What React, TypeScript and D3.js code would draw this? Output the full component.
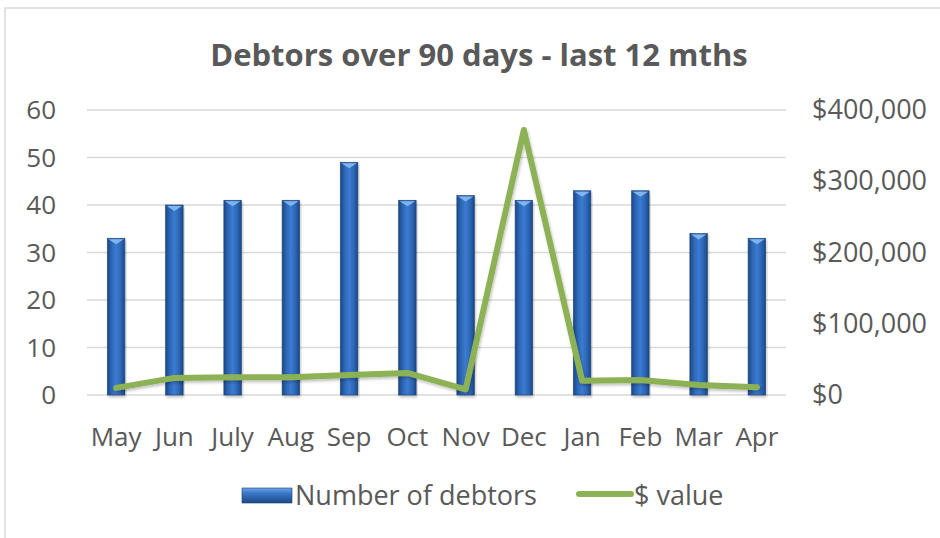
import React from "react";
import * as d3 from "d3";

const months = ["May", "Jun", "July", "Aug", "Sep", "Oct", "Nov", "Dec", "Jan", "Feb", "Mar", "Apr"];
const debtors = [33, 40, 41, 41, 49, 41, 42, 41, 43, 43, 34, 33];
const dollarValue = [10000, 24000, 25000, 25000, 28000, 31000, 8000, 372000, 20000, 21000, 14000, 11000];
const leftTicks = [0, 10, 20, 30, 40, 50, 60];
const rightTicks = [0, 100000, 200000, 300000, 400000];

const W = 940;
const H = 538;
const plotLeft = 87;
const plotRight = 786;
const plotTop = 110;
const plotBottom = 395;
const textColor = "#595959";
const font = "'Open Sans', 'Noto Sans', sans-serif";

export default function App() {
  const x = d3.scaleBand<string>().domain(months).range([plotLeft, plotRight]).paddingInner(0.7).paddingOuter(0.35);
  const yL = d3.scaleLinear().domain([0, 60]).range([plotBottom, plotTop]);
  const yR = d3.scaleLinear().domain([0, 400000]).range([plotBottom, plotTop]);
  const bw = x.bandwidth();
  const fmt = (v: number) => "$" + d3.format(",")(v);
  const line = d3
    .line<number>()
    .x((_, i) => (x(months[i]) as number) + bw / 2)
    .y((v) => yR(v));
  const pathD = line(dollarValue) || "";

  return (
    <svg width={W} height={H} style={{ position: "absolute", left: 0, top: 0 }} fontFamily={font}>
      <defs>
        <linearGradient id="barGrad" x1="0" x2="1" y1="0" y2="0">
          <stop offset="0" stopColor="#1c4886" />
          <stop offset="0.25" stopColor="#2d68b8" />
          <stop offset="0.5" stopColor="#3c7bd0" />
          <stop offset="0.75" stopColor="#2d68b8" />
          <stop offset="1" stopColor="#1c4886" />
        </linearGradient>
        <linearGradient id="legGrad" x1="0" x2="0" y1="0" y2="1">
          <stop offset="0" stopColor="#6aa3e6" />
          <stop offset="0.35" stopColor="#3a77c8" />
          <stop offset="1" stopColor="#1d4a85" />
        </linearGradient>
        <filter id="shadow" x="-10%" y="-10%" width="120%" height="130%">
          <feGaussianBlur in="SourceAlpha" stdDeviation="1.5" />
          <feOffset dx="1" dy="2" result="b" />
          <feComponentTransfer>
            <feFuncA type="linear" slope="0.25" />
          </feComponentTransfer>
          <feMerge>
            <feMergeNode />
            <feMergeNode in="SourceGraphic" />
          </feMerge>
        </filter>
      </defs>
      <rect x={0} y={0} width={W} height={H} fill="#ffffff" />
      <path d={`M5,${H} L5,8 L${W},8`} fill="none" stroke="#d9d9d9" strokeWidth={1.5} />

      <text x={479} y={66} textAnchor="middle" fontSize={31} fontWeight="bold" fill={textColor}>
        Debtors over 90 days - last 12 mths
      </text>

      {leftTicks.map((t) => (
        <g key={"g" + t}>
          <line x1={plotLeft} x2={plotRight} y1={yL(t)} y2={yL(t)} stroke="#d9d9d9" strokeWidth={1.5} />
          <text x={56} y={yL(t) + 9} textAnchor="end" fontSize={26} fill={textColor}>
            {t}
          </text>
        </g>
      ))}
      {rightTicks.map((t) => (
        <text key={"r" + t} x={812} y={yR(t) + 9} textAnchor="start" fontSize={27} fill={textColor}>
          {fmt(t)}
        </text>
      ))}

      {debtors.map((v, i) => {
        const bx = x(months[i]) as number;
        const by = yL(v);
        return (
          <g key={"b" + i} filter="url(#shadow)">
            <rect x={bx} y={by} width={bw} height={plotBottom - by} fill="url(#barGrad)" stroke="#1a3f72" strokeWidth={0.6} />
            <polygon points={`${bx + 1},${by + 1} ${bx + bw - 1},${by + 1} ${bx + bw / 2},${by + 6}`} fill="#7fb4ee" />
          </g>
        );
      })}

      <path d={pathD} fill="none" stroke="#8db255" strokeWidth={6} strokeLinejoin="round" strokeLinecap="round" filter="url(#shadow)" />

      {months.map((m) => (
        <text key={"x" + m} x={(x(m) as number) + bw / 2} y={446} textAnchor="middle" fontSize={26} fill={textColor}>
          {m}
        </text>
      ))}

      <rect x={242} y={488} width={50} height={15} fill="url(#legGrad)" stroke="#1a3f72" strokeWidth={0.6} />
      <text x={295} y={505} fontSize={27} fill={textColor}>
        Number of debtors
      </text>
      <line x1={579} x2={631} y1={494} y2={494} stroke="#8db255" strokeWidth={6} strokeLinecap="round" />
      <text x={634} y={505} fontSize={27} fill={textColor}>
        $ value
      </text>
    </svg>
  );
}
